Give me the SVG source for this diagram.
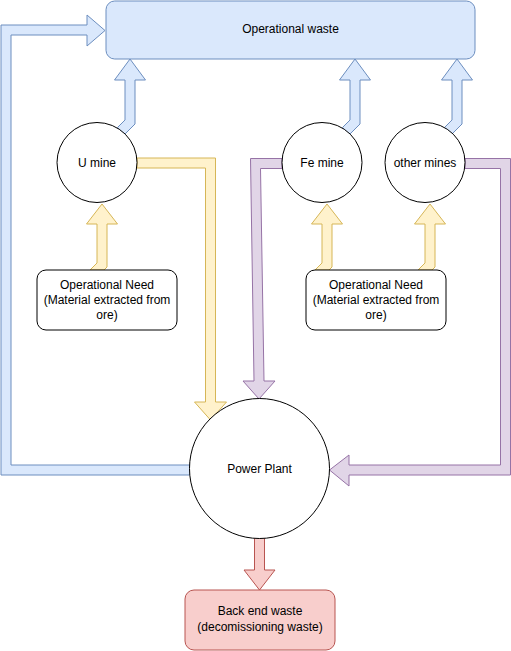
<svg xmlns="http://www.w3.org/2000/svg" width="511" height="651" viewBox="0 0 511 651">
<style>
text{font-family:"Liberation Sans",Arial,sans-serif;font-size:12px;fill:#000;text-anchor:middle;dominant-baseline:central}
.node{fill:#fff;stroke:#000;stroke-width:1}
.blue{fill:#dae8fc;stroke:#6c8ebf;stroke-width:1}
.yellow{fill:#fff2cc;stroke:#d6b656;stroke-width:1}
.purple{fill:#e1d5e7;stroke:#9673a6;stroke-width:1}
.red{fill:#f8cecc;stroke:#b85450;stroke-width:1}
</style>
<rect width="511" height="651" fill="#fff"/>
<g id="connectors">
  <!-- Power plant -> Operational waste -->
  <polygon class="blue" points="190,465 11,465 11,35 87,35 87,46 105,30.5 87,15 87,25 1,25 1,475 190,475"/>
  <!-- mines -> Operational waste -->
  <polygon class="blue" points="130,59 145.5,80 135,80 135,124 124.5,134.5 117.5,127.5 125,120 125,80 114.5,80"/>
  <polygon class="blue" points="355,59 370.5,80 360,80 360,124 349.5,134.5 342.5,127.5 350,120 350,80 339.5,80"/>
  <polygon class="blue" points="457,59 472.5,80 462,80 462,124 451.5,134.5 444.5,127.5 452,120 452,80 441.5,80"/>
  <!-- Operational need -> mines -->
  <polygon class="yellow" points="102,204 117.5,224 107,224 107,267 104,270 90,270 97,263 97,224 86.5,224"/>
  <polygon class="yellow" points="327,204 342.5,224 332,224 332,267 329,270 315,270 322,263 322,224 311.5,224"/>
  <polygon class="yellow" points="430,204 445.5,224 435,224 435,267 432,270 418,270 425,263 425,224 414.5,224"/>
  <!-- U mine -> Power Plant -->
  <polygon class="yellow" points="137,158 215.5,158 215.5,402 226.5,402 210.5,420 194.5,402 205.5,402 205.5,168 137,168"/>
  <!-- Fe mine -> Power Plant -->
  <polygon class="purple" points="282,158.5 250.5,158.5 254,381 243,381 259,399 275,381 264,381 260.5,168.5 282,168.5"/>
  <!-- other mines -> Power Plant -->
  <polygon class="purple" points="465,158.5 510.5,158.5 510.5,475 349,475 349,486 329.5,470 349,455 349,465 500.5,465 500.5,168.5 465,168.5"/>
  <!-- Power Plant -> Back end waste -->
  <polygon class="red" points="254.5,538 264.5,538 264.5,570 275,570 259.5,590 244,570 254.5,570"/>
</g>
<g id="operational-waste">
  <rect class="blue" x="106" y="1" width="369" height="58" rx="8.7"/>
  <text x="290.5" y="29">Operational waste</text>
</g>
<g id="u-mine">
  <circle class="node" cx="97" cy="162.5" r="40"/>
  <text x="97" y="162.5">U mine</text>
</g>
<g id="fe-mine">
  <circle class="node" cx="322" cy="162.5" r="40"/>
  <text x="322" y="162.5">Fe mine</text>
</g>
<g id="other-mines">
  <circle class="node" cx="425" cy="162.5" r="40"/>
  <text x="425" y="162.5">other mines</text>
</g>
<g id="need-u">
  <rect class="node" x="37" y="270" width="140" height="60" rx="9"/>
  <text x="107" y="285">Operational Need</text>
  <text x="107" y="300">(Material extracted from</text>
  <text x="107" y="315">ore)</text>
</g>
<g id="need-fe-other">
  <rect class="node" x="306" y="270" width="140" height="60" rx="9"/>
  <text x="376" y="285">Operational Need</text>
  <text x="376" y="300">(Material extracted from</text>
  <text x="376" y="315">ore)</text>
</g>
<g id="power-plant">
  <circle class="node" cx="259.5" cy="468.5" r="70"/>
  <text x="259.5" y="468.5">Power Plant</text>
</g>
<g id="back-end-waste">
  <rect class="red" x="185" y="590" width="150" height="60" rx="9"/>
  <text x="260" y="611">Back end waste</text>
  <text x="260" y="627">(decomissioning waste)</text>
</g>
</svg>
